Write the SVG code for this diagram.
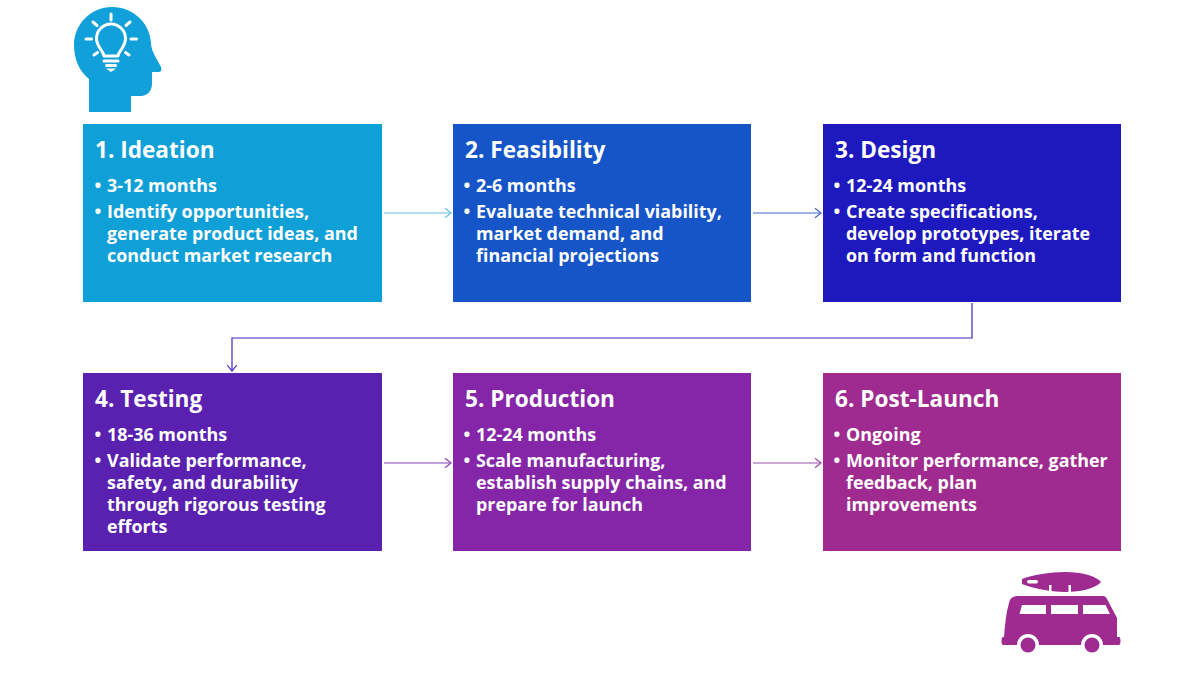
<svg xmlns="http://www.w3.org/2000/svg" width="1200" height="675" viewBox="0 0 1200 675">
<style>
text{font-family:"Open Sans","Noto Sans","Liberation Sans",sans-serif;fill:#fff;font-weight:700}
.t{font-size:22.6px}
.b{font-size:17.9px}
.d{font-size:18px}
.c{fill:none;stroke-width:1.2}
.h{fill:none;stroke:#fff;stroke-width:3;stroke-linecap:round;stroke-linejoin:round}
</style>
<defs>
<marker id="m1" markerWidth="10" markerHeight="12" refX="8" refY="6" orient="auto" markerUnits="userSpaceOnUse"><path d="M2 1.2L8 6L2 10.800" fill="none" stroke="context-stroke" stroke-width="1.2"/></marker>
</defs>
<g id="icon-head">
<path d="M89 112V79C79 71 74 59 74 45C74 24 91 7 112 7C133 7 150 23 151 43C151 48 153 52 155 56L161 67C162 70 161 72 158 72H152V84C152 91 147 96 141 96H131V112Z" fill="#11A0D9"/>
<path class="h" d="M104 56C103 50 96.500 47 96.500 38.500A14.500 14.500 0 0 1 125.500 38.500C125.500 47 119 50 118 56Z"/>
<path class="h" d="M104 61H118M106.500 65.500H115.500"/>
<path d="M106 68.500H116L111 72Z" fill="#fff"/>
<path class="h" d="M111 14V20M93 22L97 25.500M130 22L126 25.500M86 39H91.500M131 39H136.500M94 55L97.500 52.500M129 55L125.500 52.500"/>
</g>
<g id="connectors">
<path class="c" stroke="#66BFE8" d="M384 213H451" marker-end="url(#m1)"/>
<path class="c" stroke="#3F66CC" d="M753 213H821" marker-end="url(#m1)"/>
<path class="c" stroke="#4424BC" d="M972 303V338H232V371" marker-end="url(#m1)"/>
<path class="c" stroke="#8545B8" d="M384 463H451" marker-end="url(#m1)"/>
<path class="c" stroke="#9C50B0" d="M753 463H821" marker-end="url(#m1)"/>
</g>
<g id="node1"><rect x="83" y="124" width="299" height="178" fill="#10A0D8"/>
<text class="t" x="95" y="158">1. Ideation</text>
<text class="d" x="94.500" y="192">•</text><text class="b" x="107" y="192">3-12 months</text>
<text class="d" x="94.500" y="218">•</text><text class="b" x="107" y="218">Identify opportunities,</text>
<text class="b" x="107" y="240">generate product ideas, and</text>
<text class="b" x="107" y="262">conduct market research</text></g>
<g id="node2"><rect x="453" y="124" width="298" height="178" fill="#1555C8"/>
<text class="t" x="465" y="158">2. Feasibility</text>
<text class="d" x="463.500" y="192">•</text><text class="b" x="476" y="192">2-6 months</text>
<text class="d" x="463.500" y="218">•</text><text class="b" x="476" y="218">Evaluate technical viability,</text>
<text class="b" x="476" y="240">market demand, and</text>
<text class="b" x="476" y="262">financial projections</text></g>
<g id="node3"><rect x="823" y="124" width="298" height="178" fill="#1D19BF"/>
<text class="t" x="835" y="158">3. Design</text>
<text class="d" x="833.500" y="192">•</text><text class="b" x="846" y="192">12-24 months</text>
<text class="d" x="833.500" y="218">•</text><text class="b" x="846" y="218">Create specifications,</text>
<text class="b" x="846" y="240">develop prototypes, iterate</text>
<text class="b" x="846" y="262">on form and function</text></g>
<g id="node4"><rect x="83" y="373" width="299" height="178" fill="#5A21B0"/>
<text class="t" x="95" y="407">4. Testing</text>
<text class="d" x="94.500" y="441">•</text><text class="b" x="107" y="441">18-36 months</text>
<text class="d" x="94.500" y="467">•</text><text class="b" x="107" y="467">Validate performance,</text>
<text class="b" x="107" y="489">safety, and durability</text>
<text class="b" x="107" y="511">through rigorous testing</text>
<text class="b" x="107" y="533">efforts</text></g>
<g id="node5"><rect x="453" y="373" width="298" height="178" fill="#8526A8"/>
<text class="t" x="465" y="407">5. Production</text>
<text class="d" x="463.500" y="441">•</text><text class="b" x="476" y="441">12-24 months</text>
<text class="d" x="463.500" y="467">•</text><text class="b" x="476" y="467">Scale manufacturing,</text>
<text class="b" x="476" y="489">establish supply chains, and</text>
<text class="b" x="476" y="511">prepare for launch</text></g>
<g id="node6"><rect x="823" y="373" width="298" height="178" fill="#A02B90"/>
<text class="t" x="835" y="407">6. Post-Launch</text>
<text class="d" x="833.500" y="441">•</text><text class="b" x="846" y="441">Ongoing</text>
<text class="d" x="833.500" y="467">•</text><text class="b" x="846" y="467">Monitor performance, gather</text>
<text class="b" x="846" y="489">feedback, plan</text>
<text class="b" x="846" y="511">improvements</text></g>
<g id="icon-van" fill="#A02B90">
<path d="M1022 579C1032 575 1050 572 1065 572C1082 572 1096 576 1101 582C1096 588 1082 592 1065 592C1050 592 1032 588 1022 584Z"/>
<path fill="#fff" d="M1049 585H1051.500V592H1049ZM1068.500 585H1071V592H1068.500Z"/>
<rect x="1027" y="580" width="11" height="3.500" rx="1.700" fill="#fff"/>
<path d="M1004 637C1005 625 1006 613 1009 603C1010 598 1013 596 1018 596H1103C1105 596 1106 597 1107 599L1117 618V637H1119C1121 637 1121 645 1119 645H1003C1001 645 1001 637 1003 637Z"/>
<circle cx="1028" cy="645" r="11" fill="#fff"/><circle cx="1092" cy="645" r="11" fill="#fff"/>
<circle cx="1028" cy="645" r="7.500"/><circle cx="1092" cy="645" r="7.500"/>
<path fill="#fff" d="M1022 605H1046V614H1019.500ZM1051 605H1078V614H1051ZM1083 605H1105.500L1110 614H1083Z"/>
</g>
</svg>
